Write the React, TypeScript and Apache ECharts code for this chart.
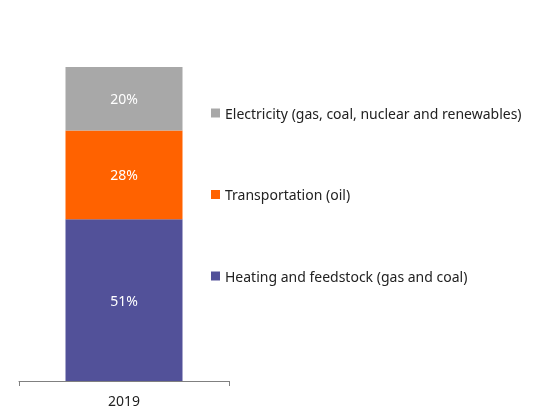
import React, { useEffect, useRef } from "react";
import * as echarts from "echarts";

const categories = ["2019"];
const heating = [51];
const transportation = [28];
const electricity = [20];
const seriesNames = [
  "Heating and feedstock (gas and coal)",
  "Transportation (oil)",
  "Electricity (gas, coal, nuclear and renewables)",
];
const colors = ["#525199", "#FF6200", "#A8A8A8"];

export default function App() {
  const ref = useRef<HTMLDivElement>(null);
  useEffect(() => {
    if (!ref.current) return;
    const chart = echarts.init(ref.current, undefined, { renderer: "svg" });
    const font = "Noto Sans";
    const mk = (name: string, data: number[], color: string) => ({
      name,
      type: "bar",
      stack: "total",
      data,
      barWidth: 117,
      itemStyle: { color },
      label: {
        show: true,
        position: "inside",
        color: "#ffffff",
        fontSize: 14,
        fontFamily: font,
        formatter: (p: any) => p.value + "%",
      },
    });
    chart.setOption({
      animation: false,
      textStyle: { fontFamily: font },
      grid: { left: 19, right: 319, top: 67, bottom: 28 },
      xAxis: {
        type: "category",
        data: categories,
        axisLine: { lineStyle: { color: "#808080", width: 1 } },
        axisTick: { show: true, length: 5, lineStyle: { color: "#808080" } },
        axisLabel: { color: "#222222", fontSize: 14, fontFamily: font, margin: 12 },
      },
      yAxis: { type: "value", min: 0, max: 99, show: false, splitLine: { show: false } },
      legend: {
        orient: "vertical",
        left: 206,
        top: 101,
        itemGap: 67.5,
        icon: "rect",
        itemWidth: 9,
        itemHeight: 9,
        textStyle: { color: "#222222", fontSize: 14, fontFamily: font },
        data: [seriesNames[2], seriesNames[1], seriesNames[0]],
      },
      series: [
        mk(seriesNames[0], heating, colors[0]),
        mk(seriesNames[1], transportation, colors[1]),
        mk(seriesNames[2], electricity, colors[2]),
      ],
    });
    return () => chart.dispose();
  }, []);
  return (
    <div
      ref={ref}
      style={{ position: "fixed", left: 0, top: 0, width: 548, height: 409 }}
    />
  );
}
